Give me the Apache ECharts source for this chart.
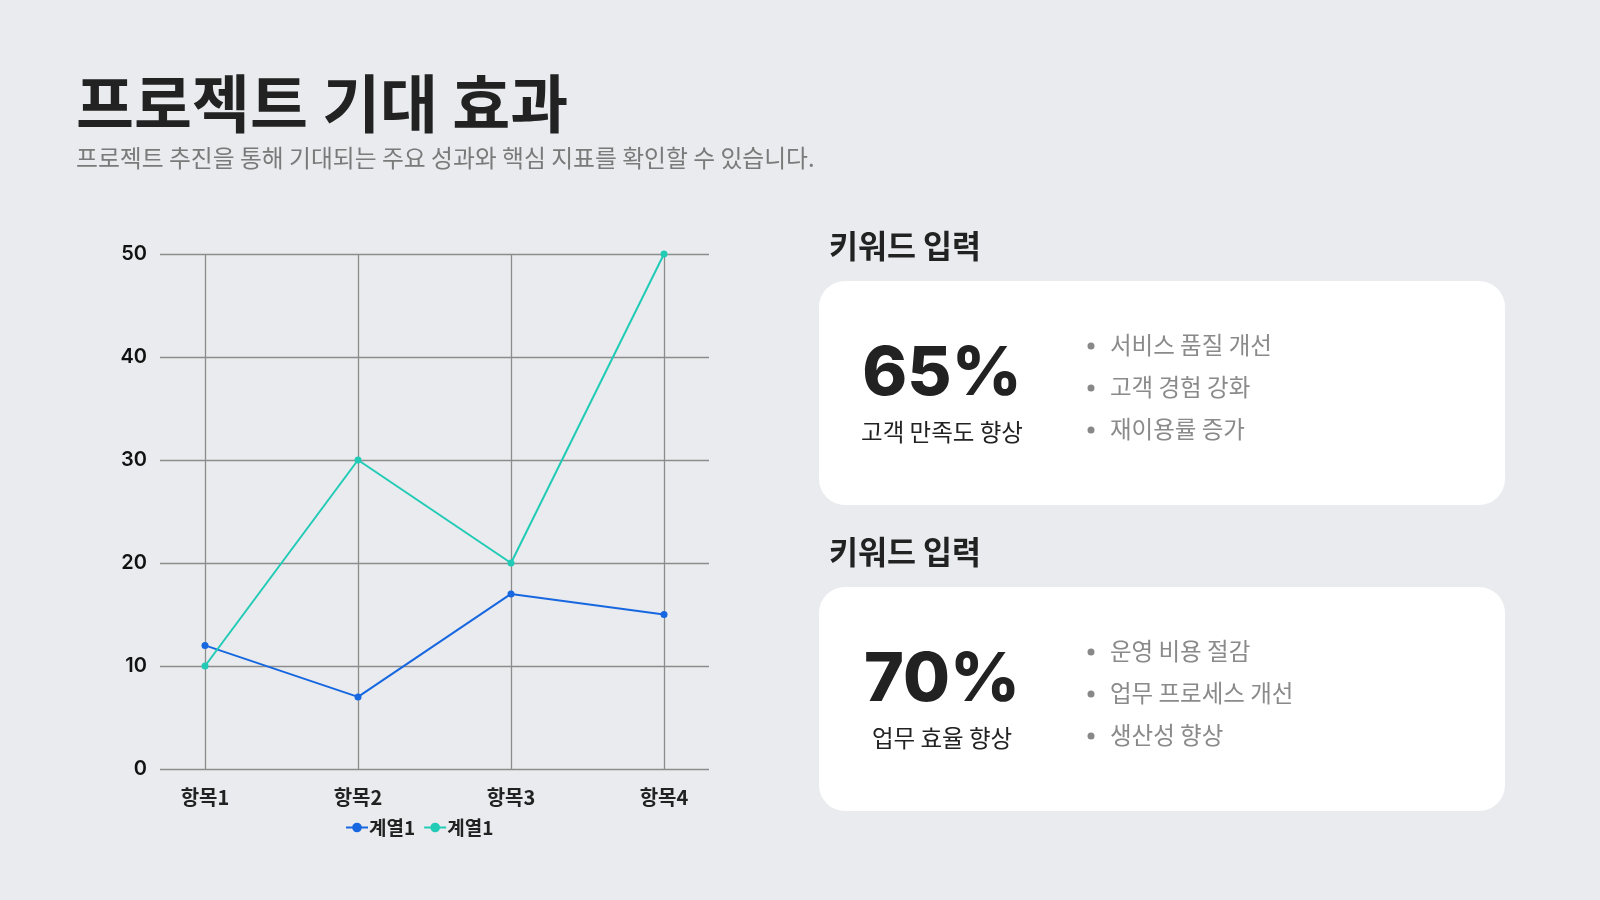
<!DOCTYPE html>
<html><head><meta charset="utf-8">
<script src="https://cdn.jsdelivr.net/npm/echarts@6/dist/echarts.min.js"></script>
<style>html,body{margin:0;padding:0;background:#e9ebee;}#c{width:1600px;height:900px;}</style>
</head><body><div id="c"></div>
<script>
const categories = ['항목1', '항목2', '항목3', '항목4'];
const series1Values = [12, 7, 17, 15];
const series2Values = [10, 30, 20, 50];
const seriesLabels = ['계열1', '계열1'];
const yTicks = [0, 10, 20, 30, 40, 50];
const titleText = '프로젝트 기대 효과';
const subtitleText = '프로젝트 추진을 통해 기대되는 주요 성과와 핵심 지표를 확인할 수 있습니다.';
const cardHeadings = ['키워드 입력', '키워드 입력'];
const cardValues = ['65%', '70%'];
const cardLabels = ['고객 만족도 향상', '업무 효율 향상'];
const cardBullets = [
  ['서비스 품질 개선', '고객 경험 강화', '재이용률 증가'],
  ['운영 비용 절감', '업무 프로세스 개선', '생산성 향상']
];

const KR = "'Noto Sans CJK KR', 'Noto Sans', sans-serif";
const NUM = "Inter, 'Noto Sans CJK KR', sans-serif";
const BLUE = '#1767e0';
const TEAL = '#22cbb6';
const GRIDC = '#8c8c8c';

const chart = echarts.init(document.getElementById('c'));

const graphics = [
  {type:'text', left:76, top:72, style:{text:titleText, font:`bold 63px ${KR}`, fill:'#222', textVerticalAlign:'top'}},
  {type:'text', left:76, top:146, style:{text:subtitleText, font:`23.8px ${KR}`, fill:'#7a7a7a'}}
];
const cardTops = [281, 587];
cardTops.forEach((top, i) => {
  graphics.push({type:'text', x:829, y:top - 35, style:{text:cardHeadings[i], font:`bold 31.5px ${KR}`, fill:'#222', textVerticalAlign:'middle'}});
  graphics.push({type:'rect', shape:{x:819, y:top, width:686, height:224, r:26}, style:{fill:'#ffffff'}});
  graphics.push({type:'text', x:942, y:top + 94, style:{text:cardValues[i], font:`800 68px ${NUM}`, fill:'#222', textAlign:'center', textVerticalAlign:'middle'}});
  graphics.push({type:'text', x:942, y:top + 151, style:{text:cardLabels[i], font:`23.5px ${KR}`, fill:'#222', textAlign:'center', textVerticalAlign:'middle'}});
  cardBullets[i].forEach((b, j) => {
    const y = top + 64 + j * 42;
    graphics.push({type:'circle', shape:{cx:1091, cy:y + 1, r:3.5}, style:{fill:'#888'}});
    graphics.push({type:'text', x:1110, y:y, style:{text:b, font:`23.5px ${KR}`, fill:'#8a8a8a', textVerticalAlign:'middle'}});
  });
});

chart.setOption({
  backgroundColor: '#e9ebee',
  animation: false,
  graphic: graphics,
  legend: {
    left: 340, top: 813,
    itemWidth: 22, itemHeight: 12, itemGap: 8,
    data: ['s1', 's2'],
    formatter: n => seriesLabels[n === 's1' ? 0 : 1],
    textStyle: {fontFamily: KR, fontSize: 19, fontWeight: 'bold', color: '#222', padding: [0, 0, 0, -4]}
  },
  grid: [
    {left: 205, right: 936, top: 254, bottom: 131},
    {left: 160, right: 891, top: 254, bottom: 131}
  ],
  xAxis: [
    {type: 'category', gridIndex: 0, data: categories, boundaryGap: false,
     axisLine: {show: false}, axisTick: {show: false},
     splitLine: {show: true, lineStyle: {color: GRIDC, width: 1.3}},
     axisLabel: {margin: 18, fontFamily: KR, fontSize: 20, fontWeight: 'bold', color: '#222'}},
    {type: 'value', gridIndex: 1, show: false, min: 0, max: 1}
  ],
  yAxis: [
    {type: 'value', gridIndex: 0, min: yTicks[0], max: yTicks[yTicks.length - 1], interval: 10, show: false},
    {type: 'value', gridIndex: 1, min: yTicks[0], max: yTicks[yTicks.length - 1], interval: 10,
     axisLine: {show: false}, axisTick: {show: false},
     splitLine: {show: true, lineStyle: {color: GRIDC, width: 1.3}},
     axisLabel: {margin: 13, fontFamily: NUM, fontSize: 20, fontWeight: 600, color: '#111'}}
  ],
  series: [
    {name: 's1', type: 'line', xAxisIndex: 0, yAxisIndex: 0, data: series1Values,
     symbol: 'circle', symbolSize: 7, lineStyle: {color: BLUE, width: 2}, itemStyle: {color: BLUE}},
    {name: 's2', type: 'line', xAxisIndex: 0, yAxisIndex: 0, data: series2Values,
     symbol: 'circle', symbolSize: 7, lineStyle: {color: TEAL, width: 2}, itemStyle: {color: TEAL}}
  ]
});
</script></body></html>
